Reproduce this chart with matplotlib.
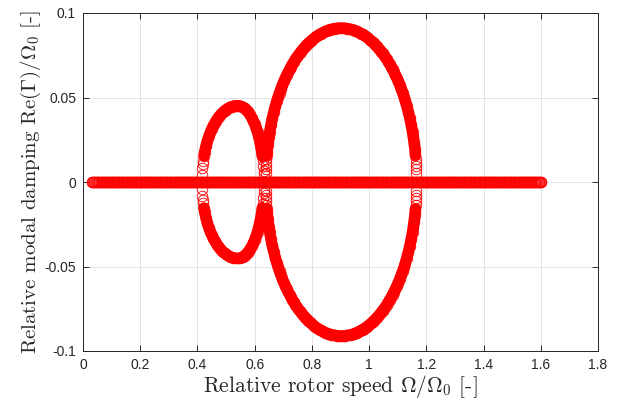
import numpy as np
import matplotlib
matplotlib.use("Agg")
import matplotlib.pyplot as plt

plt.rcParams['mathtext.fontset'] = 'cm'
plt.rcParams['font.family'] = ['Liberation Sans', 'DejaVu Sans']

# ---------------- data ----------------
# speed sweep range of the modes with zero damping
zero_start, zero_stop, sweep_step = 0.03, 1.605, 0.0025

# small loop: upper-half profile, left flank (peak -> left edge) and right flank (peak -> right edge)
small_left_x = [0.540, 0.535, 0.530, 0.525, 0.520, 0.515, 0.510, 0.505, 0.500, 0.495,
                0.490, 0.485, 0.480, 0.475, 0.470, 0.465, 0.460, 0.455, 0.450, 0.445,
                0.440, 0.435, 0.430, 0.425, 0.4225, 0.420, 0.4185, 0.417, 0.4155]
small_left_y = [0.0452, 0.04516, 0.04506, 0.04487, 0.04462, 0.04429, 0.04388, 0.04339, 0.04282,
                0.04217, 0.04143, 0.04059, 0.03965, 0.03861, 0.03745, 0.03616, 0.03473, 0.03314,
                0.03137, 0.02938, 0.02712, 0.02453, 0.02147, 0.01771, 0.01542, 0.01266, 0.01062,
                0.00805, 0.00404]
small_right_x = [0.545, 0.550, 0.555, 0.560, 0.565, 0.570, 0.575, 0.580, 0.585, 0.590,
                 0.595, 0.600, 0.605, 0.610, 0.615, 0.620, 0.6225, 0.625, 0.6265, 0.628,
                 0.630, 0.631, 0.6315]
small_right_y = [0.04513, 0.04493, 0.04460, 0.04412, 0.04350, 0.04273, 0.04180, 0.04070, 0.03942,
                 0.03794, 0.03623, 0.03426, 0.03199, 0.02933, 0.02618, 0.02232, 0.02000, 0.01729,
                 0.01539, 0.01318, 0.00937, 0.00665, 0.00471]

# big loop: upper-half profile, left edge -> right edge
big_x = [0.6385, 0.639, 0.6395, 0.640, 0.641, 0.642, 0.643, 0.644, 0.6455, 0.647, 0.6495,
         0.652, 0.657, 0.662, 0.667, 0.672, 0.677,
         0.682, 0.687, 0.692, 0.697, 0.702, 0.707, 0.712, 0.717, 0.722, 0.727, 0.732, 0.737,
         0.742, 0.747, 0.752, 0.757, 0.762, 0.767, 0.772, 0.777, 0.782, 0.787, 0.792, 0.797,
         0.802, 0.807, 0.812, 0.817, 0.822, 0.827, 0.832, 0.837, 0.842, 0.847, 0.852, 0.857,
         0.862, 0.867, 0.872, 0.877, 0.882, 0.887, 0.892, 0.897, 0.902,
         0.907, 0.912, 0.917, 0.922, 0.927, 0.932, 0.937, 0.942, 0.947, 0.952, 0.957, 0.962,
         0.967, 0.972, 0.977, 0.982, 0.987, 0.992, 0.997, 1.002, 1.007, 1.012, 1.017, 1.022,
         1.027, 1.032, 1.037, 1.042, 1.047, 1.052, 1.057, 1.062, 1.067, 1.072, 1.077, 1.082,
         1.087, 1.092, 1.097, 1.102, 1.107, 1.112, 1.117, 1.122, 1.127, 1.132, 1.137, 1.142,
         1.147, 1.152, 1.1545, 1.157, 1.1585, 1.160, 1.161, 1.162, 1.163, 1.164, 1.1645,
         1.165, 1.1655]
big_half_y = [0.0911, 0.0911, 0.0910, 0.0910, 0.0908, 0.0907, 0.0905, 0.0903, 0.0901, 0.0898,
              0.0895, 0.0891, 0.0887, 0.0883, 0.0878, 0.0874, 0.0868, 0.0863, 0.0857, 0.0850,
              0.0843, 0.0836, 0.0828, 0.0820, 0.0812, 0.0802, 0.0793, 0.0783, 0.0772, 0.0761,
              0.0750, 0.0738, 0.0725, 0.0711, 0.0697, 0.0682, 0.0666, 0.0650, 0.0633, 0.0614,
              0.0595, 0.0574, 0.0552, 0.0529, 0.0504, 0.0477, 0.0447, 0.0415, 0.0380, 0.0339,
              0.0293, 0.0266, 0.0236, 0.0216, 0.0193, 0.0177, 0.0158, 0.0137, 0.0112, 0.0097,
              0.0079, 0.0056]   # peak -> edge
big_y = big_half_y[::-1] + big_half_y[1:]

x_ticks = [0, 0.2, 0.4, 0.6, 0.8, 1.0, 1.2, 1.4, 1.6, 1.8]
x_tick_labels = ['0', '0.2', '0.4', '0.6', '0.8', '1', '1.2', '1.4', '1.6', '1.8']
y_ticks = [-0.1, -0.05, 0, 0.05, 0.1]
y_tick_labels = ['-0.1', '-0.05', '0', '0.05', '0.1']

# ---------------- figure ----------------
fig = plt.figure(figsize=(6.17, 4.09), dpi=100)
ax = fig.add_axes([83/617, 1-351/409, (598-83)/617, (351-13)/409])

red = '#ff0000'
msize, mew = 7.6, 0.6
mk = dict(linestyle='none', marker='o', markersize=msize, markerfacecolor='none',
          markeredgecolor=red, markeredgewidth=mew)
# very dense sweep -> the overlapping circles merge into a solid band
band = dict(color=red, linewidth=msize + mew, solid_capstyle='round', solid_joinstyle='round')

sweep = np.arange(zero_start, zero_stop, sweep_step)
zero_damping = np.zeros_like(sweep)

small_x = small_left_x[::-1] + small_right_x
small_y = small_left_y[::-1] + small_right_y

for xs, ys, cut in [(small_x, small_y, 4), (big_x, big_y, 5)]:
    for sgn in (1, -1):
        yy = [sgn * v for v in ys]
        ax.plot(xs[cut:-cut], yy[cut:-cut], **band)
        ax.plot(xs, yy, **mk)
ax.plot(sweep, zero_damping, **mk)

ax.set_xlim(0, 1.8)
ax.set_ylim(-0.1, 0.1)
ax.set_xticks(x_ticks)
ax.set_xticklabels(x_tick_labels)
ax.set_yticks(y_ticks)
ax.set_yticklabels(y_tick_labels)

ax.grid(True, color='#e3e3e3', linewidth=0.7)
ax.set_axisbelow(True)
for s in ax.spines.values():
    s.set_color('#262626')
    s.set_linewidth(0.7)
ax.tick_params(direction='in', length=4, width=0.7, colors='#262626', labelsize=10,
               top=True, right=True, pad=5)

ax.set_xlabel(r'Relative rotor speed $\Omega/\Omega_0$ [-]', fontfamily='cmr10', fontsize=15.5,
              color='#262626', labelpad=1)
ax.set_ylabel(r'Relative modal damping Re$(\Gamma)/\Omega_0$ [-]', fontfamily='cmr10', fontsize=15,
              color='#262626', labelpad=1)

fig.savefig('out.png', dpi=100)
